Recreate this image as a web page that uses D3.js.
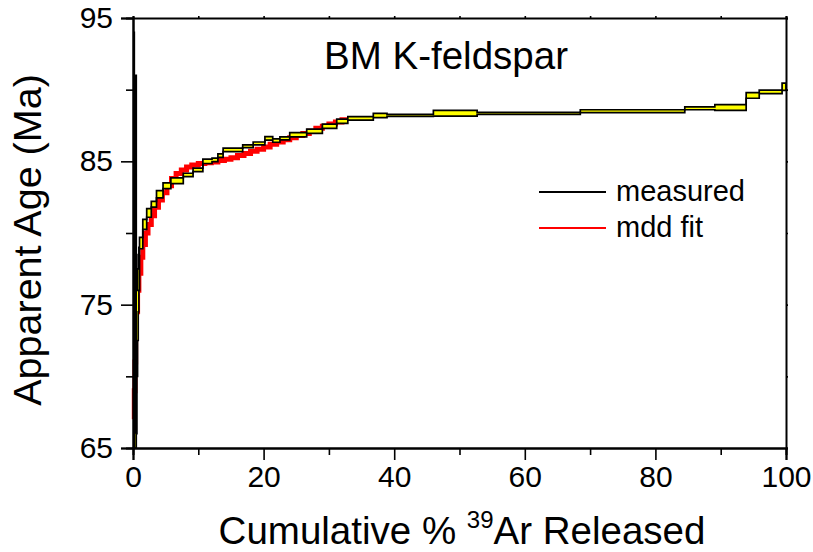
<!DOCTYPE html>
<html>
<head>
<meta charset="utf-8">
<script src="https://cdn.jsdelivr.net/npm/d3@7"></script>
<style>
  body { margin: 0; background: #fff; }
  svg { display: block; font-family: Arial, "Liberation Sans", sans-serif; }
</style>
</head>
<body>
<svg id="chart" width="813" height="552"></svg>
<script>
//Measured age spectrum: cumulative % at the end of each step, age and 1s error (Ma)
const measCum = [0.2, 0.5, 0.6, 0.7, 0.8, 0.9, 1.0, 1.5, 2.1, 2.8, 3.6, 4.6, 5.8, 7.7, 9.2, 10.7, 12.1, 13.0, 13.8,
  16.8, 18.4, 20.2, 21.4, 22.5, 24.0, 26.6, 29.0, 31.2, 32.9, 36.8, 38.9, 46.0, 52.7, 68.5, 84.5, 89.1, 93.9, 95.9, 99.4, 100];
const measAge = [80.0, 78.0, 71.0, 73.0, 75.0, 76.5, 77.5, 79.3, 80.6, 81.4, 82.0, 82.7, 83.3, 83.65, 84.05, 84.4, 85.0, 85.1, 85.4,
  85.8, 86.05, 86.25, 86.6, 86.45, 86.6, 86.85, 87.1, 87.45, 87.8, 88.0, 88.2, 88.2, 88.35, 88.35, 88.5, 88.7, 88.75, 89.6, 89.85, 90.2];
const measErr = [14.0, 13.0, 5.0, 3.0, 2.5, 2.0, 1.5, 0.4, 0.35, 0.3, 0.2, 0.25, 0.2, 0.2, 0.12, 0.12, 0.15, 0.12, 0.12,
  0.12, 0.1, 0.1, 0.12, 0.12, 0.1, 0.15, 0.15, 0.15, 0.15, 0.12, 0.15, 0.07, 0.2, 0.07, 0.1, 0.1, 0.2, 0.2, 0.12, 0.25];

//MDD model fit: cumulative % at the start of each step and model age
const fitCum = [0.1, 0.2, 0.3, 0.4, 0.5, 0.7, 0.9, 1.2, 1.5, 1.9, 2.3, 2.8, 3.3, 3.9, 4.5, 5.2, 5.9, 6.6, 7.4, 8.2, 9.0,
  10, 11, 12, 13, 14, 15, 16, 17, 18, 19, 20, 21, 22, 23, 24, 25, 26, 27, 28, 29, 30, 31, 32, 32.8];
const fitAge = [67.0, 69.0, 71.0, 73.0, 74.5, 76.0, 77.2, 78.3, 79.2, 80.0, 80.6, 81.2, 81.8, 82.3, 82.8, 83.3, 83.8, 84.15, 84.4, 84.6, 84.75,
  84.85, 84.9, 84.95, 85.05, 85.15, 85.25, 85.4, 85.55, 85.7, 85.85, 86.0, 86.2, 86.35, 86.5, 86.65, 86.8, 86.95, 87.1, 87.3, 87.45, 87.6, 87.75, 87.9, 87.9];

const xTicks = [0, 20, 40, 60, 80, 100];
const xMinor = [10, 30, 50, 70, 90];
const yTicks = [65, 75, 85, 95];
const yMinor = [70, 80, 90];

const legendLabels = ["measured", "mdd fit"];
const legendColors = ["#000", "#ff0000"];

function main() {
  const svg = d3.select("#chart");
  svg.selectAll("*").remove();

  //Plot frame in px
  const left = 133, right = 786, top = 18, bottom = 448;
  const x = d3.scaleLinear().domain([0, 100]).range([left, right]);
  const y = d3.scaleLinear().domain([65, 95]).range([bottom, top]);

  let plot = svg.append("g").attr("id", "plot");

  //Fit first, the measured spectrum sits on top of it
  let fitPts = fitCum.map((c, i) => ({ x: c, age: fitAge[i] }));
  plot.append("path")
    .datum(fitPts)
    .attr("fill", "none")
    .attr("stroke", "#ff0000")
    .attr("stroke-width", 5)
    .attr("d", d3.line().curve(d3.curveStepAfter).x(d => x(d.x)).y(d => y(d.age)));

  //Measured steps: step i spans [previous cum, cum i]
  let pts = measCum.map((c, i) => ({
    x: i === 0 ? 0 : measCum[i - 1],
    lo: measAge[i] - measErr[i],
    hi: measAge[i] + measErr[i]
  }));
  let last = pts[pts.length - 1];
  pts.push({ x: measCum[measCum.length - 1], lo: last.lo, hi: last.hi });

  plot.append("path")
    .datum(pts)
    .attr("fill", "#ffff00")
    .attr("d", d3.area().curve(d3.curveStepAfter)
      .x(d => x(d.x)).y0(d => y(Math.max(65, d.lo))).y1(d => y(d.hi)));

  ["lo", "hi"].forEach(k => {
    plot.append("path")
      .datum(pts)
      .attr("fill", "none")
      .attr("stroke", "#000")
      .attr("stroke-width", 1.7)
      .attr("d", d3.line().curve(d3.curveStepAfter).x(d => x(d.x)).y(d => y(Math.max(65, d[k]))));
  });
  //Close both ends of the spectrum (the low-gas first steps pile up into a black bar)
  [pts[0], last].forEach((p, i) => {
    let xx = i === 0 ? x(0) + 2 : x(100);
    plot.append("line")
      .attr("x1", xx).attr("x2", xx)
      .attr("y1", y(Math.max(65, p.lo))).attr("y2", y(i === 0 ? pts[1].hi : p.hi))
      .attr("stroke", "#000").attr("stroke-width", i === 0 ? 4 : 1.7);
  });

  //Axes
  const fs = 30;
  let axB = svg.append("g").attr("transform", `translate(0,${bottom})`)
    .call(d3.axisBottom(x).tickValues(xTicks).tickSize(12).tickPadding(6).tickFormat(d3.format("d")));
  svg.append("g").attr("transform", `translate(0,${bottom})`)
    .call(d3.axisBottom(x).tickValues(xMinor).tickSize(7).tickFormat(""));
  let axL = svg.append("g").attr("transform", `translate(${left},0)`)
    .call(d3.axisLeft(y).tickValues(yTicks).tickSize(12).tickPadding(8).tickFormat(d3.format("d")));
  svg.append("g").attr("transform", `translate(${left},0)`)
    .call(d3.axisLeft(y).tickValues(yMinor).tickSize(7).tickFormat(""));
  svg.append("g").attr("transform", `translate(0,${top})`)
    .call(d3.axisTop(x).tickValues(xTicks.concat(xMinor)).tickSize(2).tickFormat(""));
  svg.append("g").attr("transform", `translate(${right},0)`)
    .call(d3.axisRight(y).tickValues(yTicks.concat(yMinor)).tickSize(2).tickFormat(""));

  svg.selectAll(".domain").attr("stroke", "#000").attr("stroke-width", 2);
  svg.selectAll(".tick line").attr("stroke", "#000").attr("stroke-width", 1.6);
  [axB, axL].forEach(a => a.selectAll("text")
    .attr("fill", "#000")
    .style("font-size", fs + "px")
    .style("font-family", "Arial, 'Liberation Sans', sans-serif"));

  //Title inside plot
  svg.append("text")
    .attr("x", 446).attr("y", 69)
    .attr("text-anchor", "middle")
    .style("font-size", "38.5px")
    .text("BM K-feldspar");

  //Legend
  let lg = svg.append("g").attr("id", "legend");
  legendLabels.forEach((lab, i) => {
    let yy = 192 + i * 36;
    lg.append("line")
      .attr("x1", 539).attr("x2", 606).attr("y1", yy).attr("y2", yy)
      .attr("stroke", legendColors[i]).attr("stroke-width", 2);
    lg.append("text")
      .attr("x", 616).attr("y", yy + 9)
      .style("font-size", "29px")
      .text(lab);
  });

  //Axis titles
  let xt = svg.append("text")
    .attr("x", 462).attr("y", 544)
    .attr("text-anchor", "middle")
    .style("font-size", "38.5px");
  xt.append("tspan").text("Cumulative % ");
  xt.append("tspan").attr("dy", -16).style("font-size", "24px").text("39");
  xt.append("tspan").attr("dy", 16).text("Ar Released");

  svg.append("text")
    .attr("transform", "translate(41,240) rotate(-90)")
    .attr("text-anchor", "middle")
    .style("font-size", "39.5px")
    .text("Apparent Age (Ma)");
}

main();
</script>
</body>
</html>
